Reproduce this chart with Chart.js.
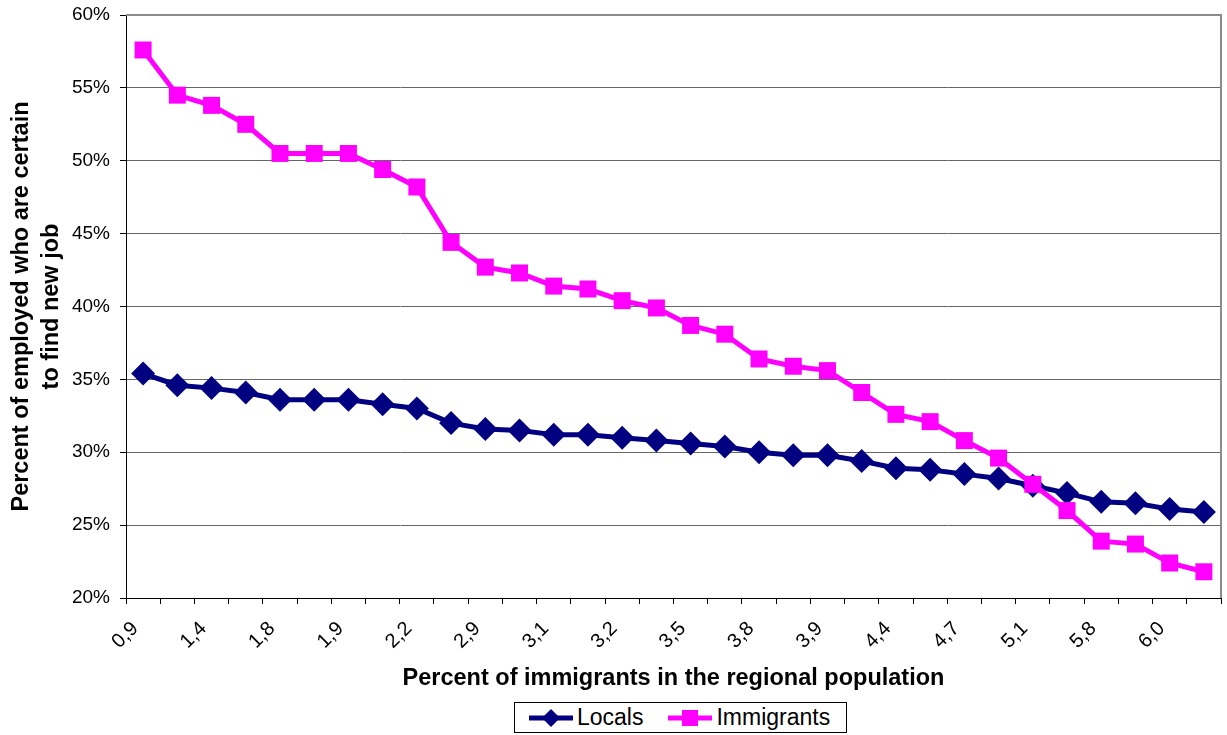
<!DOCTYPE html>
<html>
<head>
<meta charset="utf-8">
<script src="https://cdn.jsdelivr.net/npm/chart.js@4.4.1/dist/chart.umd.min.js"></script>
<style>
  html, body { margin: 0; padding: 0; background: #fff; }
  #wrap { position: relative; width: 1227px; height: 735px; }
  #legend {
    position: absolute; left: 514px; top: 702px; width: 331px; height: 29px;
    border: 1px solid #000; background: #fff;
    font-family: "Liberation Sans", Arial, sans-serif; font-size: 23px; color: #000;
    display: flex; align-items: center;
  }
  #legend .item { display: flex; align-items: center; }
  #legend svg { display: block; }
</style>
</head>
<body>
<div id="wrap">
  <canvas id="chart" width="1227" height="735"></canvas>
  <div id="legend">
    <div class="item" style="margin-left:13px">
      <svg width="46" height="20"><line x1="1" y1="10" x2="45" y2="10" stroke="#000080" stroke-width="5"/><polygon points="23,1 32,10 23,19 14,10" fill="#000080"/></svg>
      <span style="margin-left:3px">Locals</span>
    </div>
    <div class="item" style="margin-left:24px">
      <svg width="46" height="20"><line x1="1" y1="10" x2="45" y2="10" stroke="#FF00FF" stroke-width="5"/><rect x="15" y="2" width="16" height="16" fill="#FF00FF"/></svg>
      <span style="margin-left:3px">Immigrants</span>
    </div>
  </div>
</div>
<script>
// percent of immigrants in the region (only every other one is printed on the axis)
const categories = ['0,9', '1,2', '1,4', '1,6', '1,8', '1,8', '1,9', '2,0', '2,2', '2,6',
                    '2,9', '3,0', '3,1', '3,1', '3,2', '3,3', '3,5', '3,7', '3,8', '3,8',
                    '3,9', '4,2', '4,4', '4,6', '4,7', '4,9', '5,1', '5,3', '5,8', '5,9',
                    '6,0', '6,7'];

const locals = [35.4, 34.6, 34.4, 34.1, 33.6, 33.6, 33.6, 33.3, 33.0, 32.0,
                31.6, 31.5, 31.2, 31.2, 31.0, 30.8, 30.6, 30.4, 30.0, 29.8,
                29.8, 29.4, 28.9, 28.8, 28.5, 28.2, 27.7, 27.2, 26.6, 26.5,
                26.1, 25.9];

const immigrants = [57.6, 54.5, 53.8, 52.5, 50.5, 50.5, 50.5, 49.4, 48.2, 44.4,
                    42.7, 42.3, 41.4, 41.2, 40.4, 39.9, 38.7, 38.1, 36.4, 35.9,
                    35.6, 34.1, 32.6, 32.1, 30.8, 29.6, 27.8, 26.0, 23.9, 23.7,
                    22.4, 21.8];

const yTicks = [20, 25, 30, 35, 40, 45, 50, 55, 60];

const FONT = '"Liberation Sans", Arial, sans-serif';

// gray frame on top and right side of the plot area
const frame = {
    id: 'frame',
    afterDraw(chart) {
        const { ctx, chartArea: a } = chart;
        ctx.save();
        ctx.strokeStyle = '#8c8c8c';
        ctx.lineWidth = 2;
        ctx.beginPath();
        ctx.moveTo(a.left, a.top);
        ctx.lineTo(a.right, a.top);
        ctx.lineTo(a.right, a.bottom);
        ctx.stroke();
        ctx.restore();
    }
};

const ctx = document.getElementById('chart').getContext('2d');
new Chart(ctx, {
    type: 'line',
    data: {
        labels: categories,
        datasets: [{
            label: 'Locals',
            data: locals,
            borderColor: '#000080',
            backgroundColor: '#000080',
            borderWidth: 5,
            pointStyle: 'rectRot',
            pointRadius: 12,
            pointBorderWidth: 0,
            pointBackgroundColor: '#000080',
            order: 1
        }, {
            label: 'Immigrants',
            data: immigrants,
            borderColor: '#FF00FF',
            backgroundColor: '#FF00FF',
            borderWidth: 5,
            pointStyle: 'rect',
            pointRadius: 12,
            pointBorderWidth: 0,
            pointBackgroundColor: '#FF00FF',
            order: 0
        }]
    },
    options: {
        responsive: false,
        animation: false,
        devicePixelRatio: 1,
        layout: { autoPadding: false, padding: { left: 0, top: 15, right: 6, bottom: 0 } },
        plugins: {
            legend: { display: false },
            tooltip: { enabled: false }
        },
        scales: {
            x: {
                offset: true,
                grid: { offset: true, drawOnChartArea: false, tickLength: 6, tickColor: '#000' },
                border: { color: '#000', width: 1 },
                ticks: {
                    autoSkip: false,
                    minRotation: 45,
                    maxRotation: 45,
                    padding: 13,
                    labelOffset: -8,
                    color: '#000',
                    font: { family: FONT, size: 20 },
                    callback: function(value, index) {
                        return index % 2 === 0 ? this.getLabelForValue(value) : '';
                    }
                },
                title: {
                    display: true,
                    text: 'Percent of immigrants in the regional population',
                    color: '#000',
                    font: { family: FONT, size: 23.5, weight: 'bold' },
                    padding: { top: 0, bottom: 42 }
                },
                afterFit: function(scale) {
                    scale.height = 137;
                    scale.paddingLeft = 0;
                    scale.paddingRight = 0;
                }
            },
            y: {
                min: yTicks[0],
                max: yTicks[yTicks.length - 1],
                afterBuildTicks: function(scale) {
                    scale.ticks = yTicks.map(v => ({ value: v }));
                },
                grid: { color: '#666', lineWidth: 1, tickLength: 6, tickColor: '#000' },
                border: { color: '#000', width: 1 },
                ticks: {
                    padding: 10,
                    color: '#000',
                    font: { family: FONT, size: 19 },
                    callback: v => v + '%'
                },
                title: {
                    display: true,
                    text: ['Percent of employed who are certain', 'to find new job'],
                    color: '#000',
                    font: { family: FONT, size: 23.5, weight: 'bold', lineHeight: 1.3 },
                    padding: { top: 6, bottom: 0 }
                },
                afterFit: function(scale) {
                    scale.width = 126;
                    scale.paddingTop = 0;
                    scale.paddingBottom = 0;
                }
            }
        }
    },
    plugins: [frame]
});
</script>
</body>
</html>
